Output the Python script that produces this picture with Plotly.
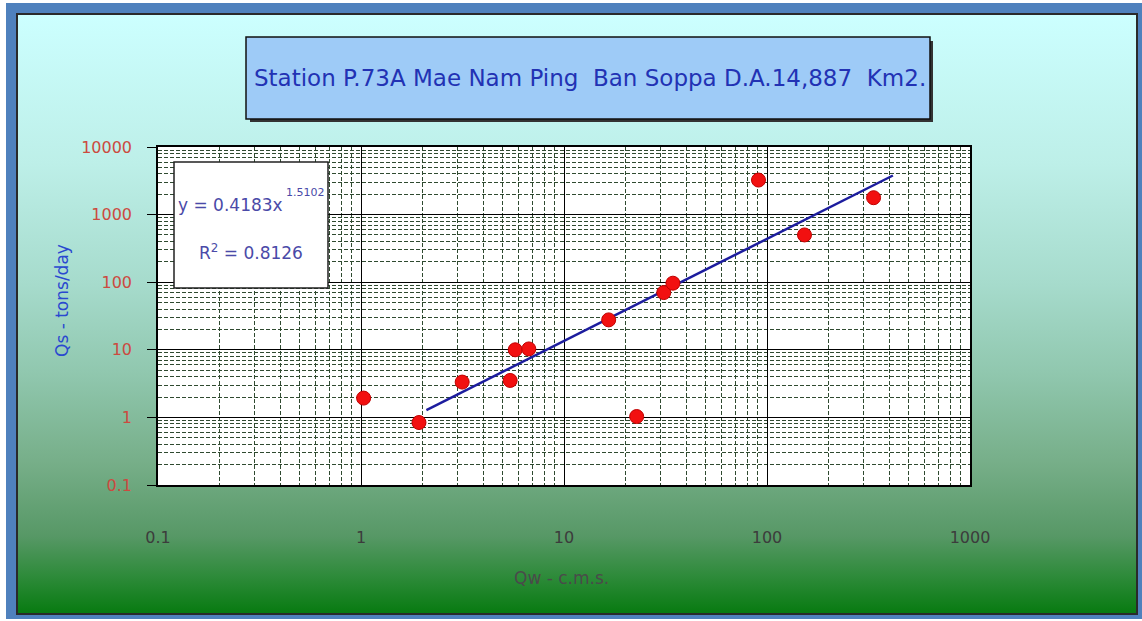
import base64
import plotly.graph_objects as go

# ---- data ----
qw = [1.03, 1.93, 3.15, 5.43, 5.75, 6.71, 16.6, 22.8, 31.0, 34.4, 90.8, 153, 335]
qs = [1.93, 0.84, 3.33, 3.52, 10.0, 10.3, 27.7, 1.03, 70.2, 96.7, 3243, 500, 1778]

trend_coef = 0.4183
trend_exp = 1.5102
trend_r2 = 0.8126
trend_x = [2.10, 417]
trend_y = [trend_coef * x ** trend_exp for x in trend_x]

x_tickvals = [0.1, 1, 10, 100, 1000]
x_ticktext = ["0.1", "1", "10", "100", "1000"]
y_tickvals = [0.1, 1, 10, 100, 1000, 10000]
y_ticktext = ["0.1", "1", "10", "100", "1000", "10000"]

title_text = "Station P.73A Mae Nam Ping \u00a0Ban Soppa D.A.14,887 \u00a0Km2."
x_title = "Qw - c.m.s."
y_title = "Qs - tons/day"

# ---- layout geometry ----
W, H = 1142, 621
L, T = 158, 147
PW, PH = 812, 338
R = W - L - PW
B = H - T - PH


def px(xp):
    return (xp - L) / PW


def py(yp):
    return (T + PH - yp) / PH


FONT = "DejaVu Sans"

# background (frame + gradient) as an SVG image
stops = [
    (0.00, "#ccffff"), (0.25, "#bdefe8"), (0.45, "#a6dbcc"), (0.60, "#90c7ae"),
    (0.75, "#76ae88"), (0.87, "#579866"), (0.94, "#2c8a38"), (1.00, "#077a10"),
]
stop_xml = "".join(f'<stop offset="{o}" stop-color="{c}"/>' for o, c in stops)
svg = (
    f'<svg xmlns="http://www.w3.org/2000/svg" width="{W}" height="{H}" viewBox="0 0 {W} {H}" preserveAspectRatio="none">'
    f'<defs><linearGradient id="g" x1="0" y1="0" x2="0" y2="1">{stop_xml}</linearGradient></defs>'
    f'<rect x="0" y="0" width="{W}" height="{H}" fill="#ffffff"/>'
    f'<rect x="6" y="3" width="{W-6}" height="{H-5}" fill="#4f81bd"/>'
    f'<rect x="17" y="14" width="1120" height="600" fill="url(#g)" stroke="#2a2a2a" stroke-width="2"/>'
    f'</svg>'
)
svg_uri = "data:image/svg+xml;base64," + base64.b64encode(svg.encode()).decode()

fig = go.Figure()
fig.add_trace(go.Scatter(
    x=trend_x, y=trend_y, mode="lines",
    line=dict(color="#1c1c9e", width=2.5), hoverinfo="skip", showlegend=False,
))
fig.add_trace(go.Scatter(
    x=qw, y=qs, mode="markers",
    marker=dict(size=14, color="#f21010", line=dict(color="#c00000", width=1)),
    showlegend=False,
))

minor = dict(showgrid=True, gridcolor="#2f4a30", griddash="4px,2px", gridwidth=1, dtick="D1", ticks="")

fig.update_xaxes(
    type="log", range=[-1, 3], tickmode="array", tickvals=x_tickvals, ticktext=x_ticktext,
    showgrid=True, gridcolor="#000000", gridwidth=1, minor=minor,
    showline=True, linecolor="#000000", linewidth=1.5, mirror=True,
    ticks="", ticklabelstandoff=37,
    tickfont=dict(family=FONT, size=16, color="#3c3c3c"), zeroline=False,
)
fig.update_yaxes(
    type="log", range=[-1, 4], tickmode="array", tickvals=y_tickvals, ticktext=y_ticktext,
    showgrid=True, gridcolor="#000000", gridwidth=1, minor=minor,
    showline=True, linecolor="#000000", linewidth=1.5, mirror=True,
    ticks="outside", ticklen=9, tickcolor="#000000", tickwidth=1.2, ticklabelstandoff=12,
    tickfont=dict(family=FONT, size=16, color="#cc4a40"), zeroline=False,
)

shapes = [
    # white plot area over the gradient
    dict(type="rect", xref="paper", yref="paper", x0=0, x1=1, y0=0, y1=1,
         fillcolor="#ffffff", line=dict(width=0), layer="below"),
    # title box shadow + box
    dict(type="rect", xref="paper", yref="paper", x0=px(250), x1=px(933), y0=py(122), y1=py(41),
         fillcolor="#333333", line=dict(width=0), layer="above"),
    dict(type="rect", xref="paper", yref="paper", x0=px(246), x1=px(930), y0=py(119), y1=py(37),
         fillcolor="#9ecbf7", line=dict(color="#111111", width=1.5), layer="above"),
    # equation box
    dict(type="rect", xref="paper", yref="paper", x0=px(174), x1=px(328), y0=py(288), y1=py(162),
         fillcolor="#ffffff", line=dict(color="#222222", width=1.5), layer="above"),
]

annotations = [
    dict(text=title_text, x=px(590), y=py(78), xref="paper", yref="paper", showarrow=False,
         xanchor="center", yanchor="middle", font=dict(family=FONT, size=23, color="#2232b4")),
    dict(text=f"y = {trend_coef}x", x=px(176), y=py(205), xref="paper", yref="paper", showarrow=False,
         xanchor="left", yanchor="middle", font=dict(family=FONT, size=17, color="#4a4aa8")),
    dict(text=f"{trend_exp}", x=px(284), y=py(192), xref="paper", yref="paper", showarrow=False,
         xanchor="left", yanchor="middle", font=dict(family=FONT, size=11, color="#4a4aa8")),
    dict(text=f"R<sup>2</sup> = {trend_r2}", x=px(251), y=py(252), xref="paper", yref="paper",
         showarrow=False, xanchor="center", yanchor="middle",
         font=dict(family=FONT, size=17, color="#4a4aa8")),
    dict(text=x_title, x=px(561), y=py(578), xref="paper", yref="paper", showarrow=False,
         xanchor="center", yanchor="middle", font=dict(family=FONT, size=17, color="#4a4a4a")),
    dict(text=y_title, x=px(62), y=py(301), xref="paper", yref="paper", showarrow=False,
         textangle=-90, xanchor="center", yanchor="middle",
         font=dict(family=FONT, size=17, color="#2a48d0")),
]

fig.update_layout(
    width=W, height=H,
    margin=dict(l=L, r=R, t=T, b=B, pad=0),
    paper_bgcolor="#ffffff", plot_bgcolor="#ffffff",
    showlegend=False,
    shapes=shapes, annotations=annotations,
    images=[dict(source=svg_uri, xref="paper", yref="paper",
                 x=-L / PW, y=1 + T / PH, sizex=W / PW, sizey=H / PH,
                 xanchor="left", yanchor="top", sizing="stretch", layer="below")],
    font=dict(family=FONT),
)

fig.write_html(
    "out.html",
    config={"displayModeBar": False},
    post_script="document.body.style.margin='0px';document.body.style.overflow='hidden';",
)
